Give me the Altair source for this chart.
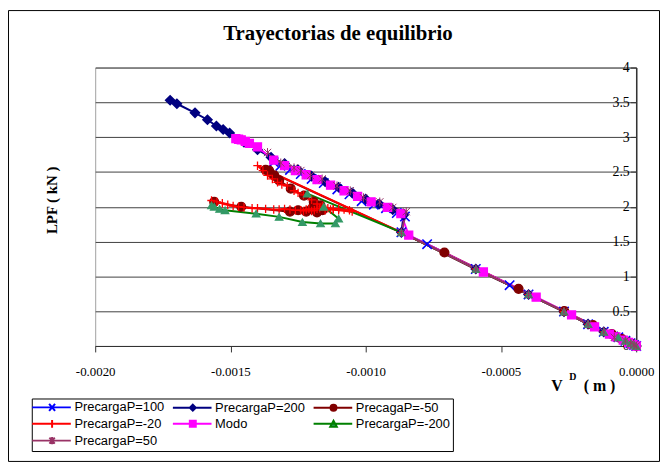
import altair as alt
import pandas as pd

series_names = ["PrecargaP=100", "PrecargaP=200", "PrecagaP=-50", "PrecargaP=-20",
                "Modo", "PrecargaP=-200", "PrecargaP=50"]
line_colors = ["#0000FF", "#000080", "#800000", "#FF0000", "#FF00FF", "#008000", "#993366"]
marker_colors = ["#0000FF", "#000080", "#800000", "#FF0000", "#FF00FF", "#339966", "#993366"]

# --- series values (V^D in m, LPF in kN) ---
x_p100 = [0, -0.000008, -0.000021, -0.000040, -0.000066, -0.000120, -0.000178, -0.000267,
          -0.000398, -0.000468, -0.000593, -0.000773, -0.000868, -0.000855, -0.000885,
          -0.000925, -0.000970, -0.001015, -0.001060, -0.001105, -0.001155, -0.001200,
          -0.001240, -0.001280, -0.001315, -0.001340]
y_p100 = [0, 0.015, 0.04, 0.075, 0.125, 0.204, 0.313, 0.494, 0.740, 0.873, 1.106, 1.462,
          1.633, 1.86, 1.91, 1.98, 2.03, 2.08, 2.18, 2.25, 2.34, 2.40, 2.47, 2.53, 2.59, 2.64]

x_p200 = [0, -0.00001, -0.000025, -0.000045, -0.00007, -0.00012, -0.000178, -0.000267,
          -0.000398, -0.000593, -0.000868, -0.00086, -0.0009, -0.00095, -0.001, -0.00105,
          -0.0011, -0.00115, -0.0012, -0.00125, -0.0013, -0.00135, -0.0014, -0.00145,
          -0.001503, -0.001527, -0.001552, -0.001585, -0.001631, -0.001698, -0.001723]
y_p200 = [0, 0.02, 0.045, 0.085, 0.13, 0.204, 0.313, 0.494, 0.740, 1.106, 1.633, 1.88,
          1.96, 2.04, 2.11, 2.20, 2.28, 2.36, 2.44, 2.53, 2.62, 2.71, 2.82, 2.93, 3.06, 3.11,
          3.16, 3.25, 3.35, 3.48, 3.53]

x_m50 = [0, -0.00001, -0.000027, -0.000053, -0.00009, -0.00016, -0.000266, -0.000435,
         -0.000709, -0.00137, -0.001357, -0.001338, -0.00132, -0.001277, -0.001228,
         -0.001192, -0.001167, -0.00116, -0.00118, -0.0012, -0.00122, -0.00125, -0.00128,
         -0.00146, -0.00156]
y_m50 = [0, 0.02, 0.05, 0.10, 0.17, 0.30, 0.50, 0.821, 1.343, 2.53, 2.52, 2.45, 2.38, 2.26,
         2.16, 2.07, 2.02, 1.95, 1.92, 1.97, 1.93, 1.95, 1.93, 2.00, 2.07]

x_m20 = [0, -0.000008, -0.00002, -0.00004, -0.000066, -0.00012, -0.000178, -0.000267,
         -0.000398, -0.000593, -0.000868, -0.0014, -0.00138, -0.001363, -0.001345, -0.001326,
         -0.00131, -0.00129, -0.001265, -0.00125, -0.00123, -0.0012, -0.00118, -0.00116,
         -0.00114, -0.00112, -0.0011, -0.00105, -0.00106, -0.00108, -0.0011, -0.00112,
         -0.00113, -0.00115, -0.00117, -0.00118, -0.00119, -0.0012, -0.00121, -0.00122,
         -0.00123, -0.00124, -0.00126, -0.00128, -0.0013, -0.00132, -0.00134, -0.00137,
         -0.0014, -0.00142, -0.00145, -0.00147, -0.00149, -0.00151, -0.00153, -0.00155,
         -0.00157]
y_m20 = [0, 0.015, 0.04, 0.075, 0.125, 0.204, 0.313, 0.494, 0.740, 1.106, 1.633, 2.59, 2.52,
         2.45, 2.40, 2.35, 2.32, 2.30, 2.23, 2.20, 2.17, 2.10, 2.04, 2.01, 1.98, 1.96, 1.95,
         1.93, 1.95, 1.96, 1.97, 1.97, 1.96, 1.95, 1.98, 1.97, 1.95, 1.94, 1.97, 1.96, 1.94,
         1.95, 1.95, 1.96, 1.97, 1.96, 1.96, 1.97, 1.98, 1.98, 1.99, 2.00, 2.01, 2.03, 2.05,
         2.07, 2.09]

x_modo = [0, -0.000012, -0.000028, -0.000048, -0.000075, -0.000099, -0.000154, -0.000239,
          -0.00037, -0.000565, -0.000841, -0.00087, -0.00092, -0.00098, -0.00103, -0.00108,
          -0.00113, -0.00118, -0.00122, -0.00126, -0.0013, -0.00134, -0.0014, -0.00143,
          -0.001445, -0.00146, -0.00147, -0.00148]
y_modo = [0, 0.02, 0.05, 0.085, 0.13, 0.171, 0.275, 0.446, 0.702, 1.063, 1.594, 1.90, 1.99,
          2.07, 2.15, 2.23, 2.31, 2.39, 2.46, 2.52, 2.59, 2.67, 2.86, 2.91, 2.94, 2.96, 2.97,
          2.98]

x_m200 = [0, -0.000008, -0.00002, -0.00004, -0.000066, -0.00012, -0.000178, -0.000267,
          -0.000398, -0.000593, -0.000868, -0.001216, -0.001155, -0.0011, -0.001112,
          -0.001167, -0.001234, -0.00132, -0.001405, -0.00152, -0.00154, -0.00156, -0.00157]
y_m200 = [0, 0.015, 0.04, 0.075, 0.125, 0.204, 0.313, 0.494, 0.740, 1.106, 1.633, 2.19, 2.00,
          1.83, 1.76, 1.76, 1.78, 1.855, 1.90, 1.95, 1.97, 2.00, 2.02]

x_p50 = [0, -0.000008, -0.00002, -0.00004, -0.000081, -0.00012, -0.000178, -0.000267,
         -0.000398, -0.000593, -0.000868, -0.00085, -0.0009, -0.000948, -0.001008, -0.001057,
         -0.001106, -0.001161, -0.001204, -0.00124, -0.001265, -0.001314, -0.001363]
y_p50 = [0, 0.015, 0.04, 0.075, 0.124, 0.204, 0.313, 0.494, 0.740, 1.106, 1.633, 1.93, 1.99,
         2.07, 2.13, 2.23, 2.30, 2.40, 2.45, 2.52, 2.56, 2.63, 2.78]

xs = [x_p100, x_p200, x_m50, x_m20, x_modo, x_m200, x_p50]
ys = [y_p100, y_p200, y_m50, y_m20, y_modo, y_m200, y_p50]

x_ticks = [-0.002, -0.0015, -0.001, -0.0005, 0]
y_ticks = [0, 0.5, 1, 1.5, 2, 2.5, 3, 3.5, 4]

rows = []
for name, xv, yv in zip(series_names, xs, ys):
    for i, (a, b) in enumerate(zip(xv, yv)):
        rows.append({"series": name, "x": a, "y": b, "i": i})
df = pd.DataFrame(rows)

# marker shapes (unit square -1..1)
X_SHAPE = "M-1,-1L1,1M-1,1L1,-1"
PLUS_SHAPE = "M-1,0H1M0,-1V1"
STAR_SHAPE = "M-1,-1L1,1M-1,1L1,-1M0,-1.2V1.2"
marker_shapes = [X_SHAPE, "diamond", "circle", PLUS_SHAPE, "square", "triangle-up", STAR_SHAPE]
marker_sizes = [90, 55, 50, 140, 64, 70, 90]
marker_strokes = [1.6, 1, 1, 2, 1, 1, 2]

# legend symbols: line segment with the marker in its middle
LINE = "M-2.7,0H10.3"
legend_shapes = [
    LINE + "M3,-1.2L5,1.2M3,1.2L5,-1.2",
    LINE + "M4,-1L5,0L4,1L3,0Z",
    LINE + "M5,0A1,1 0 1,1 3,0A1,1 0 1,1 5,0Z",
    LINE + "M4,-1.3V1.3",
    LINE + "M3,-1H5V1H3Z",
    LINE + "M4,-1L5.1,1H2.9Z",
    LINE + "M3.1,-1L4.9,1M3.1,1L4.9,-1M4,-1.2V1.2",
]

W, H = 546, 281
FONT_SERIF = "Liberation Serif"
FONT_SANS = "Liberation Sans"

x_enc = alt.X("x:Q", scale=alt.Scale(domain=[-0.002, 0], nice=False, zero=False),
              axis=alt.Axis(values=x_ticks, title=None, grid=False, tickSize=6,
                            labelPadding=14, labelFont=FONT_SERIF, labelFontSize=13,
                            labelColor="black", domainColor="#333333", tickColor="#333333",
                            labelFlush=False,
                            labelExpr="replace(format(datum.value, '.4f'), '\u2212', '-')"))
y_enc = alt.Y("y:Q", scale=alt.Scale(domain=[0, 4], nice=False),
              axis=alt.Axis(values=y_ticks, title=None, orient="left", offset=-W,
                            grid=True, gridColor="#404040", gridWidth=1, tickSize=6,
                            labelPadding=1, labelFont=FONT_SERIF, labelFontSize=14,
                            labelColor="black", domainColor="#333333", domainWidth=1.5,
                            tickColor="#333333", format="~g", labelFlush=False))

frame = alt.Chart(pd.DataFrame({"a": [0]})).mark_rect(
    fillOpacity=0, stroke="black", strokeWidth=1
).encode(x=alt.value(-87.5), x2=alt.value(569.5), y=alt.value(-57.5), y2=alt.value(397.5))

lines = alt.Chart(df).mark_line(strokeWidth=2).encode(
    x=x_enc, y=y_enc,
    color=alt.Color("series:N", scale=alt.Scale(domain=series_names, range=line_colors),
                    legend=None),
    order="i:Q",
)

points = alt.Chart(df).mark_point(filled=True, opacity=1).encode(
    x=x_enc, y=y_enc,
    shape=alt.Shape("series:N", scale=alt.Scale(domain=series_names, range=marker_shapes),
                    legend=None),
    fill=alt.Fill("series:N", scale=alt.Scale(domain=series_names, range=marker_colors),
                  legend=None),
    stroke=alt.Stroke("series:N", scale=alt.Scale(domain=series_names, range=marker_colors),
                      legend=None),
    size=alt.Size("series:N", scale=alt.Scale(domain=series_names, range=marker_sizes),
                  legend=None),
    strokeWidth=alt.StrokeWidth("series:N",
                                scale=alt.Scale(domain=series_names, range=marker_strokes),
                                legend=None),
)

leg = alt.Legend(title=None, orient="none", legendX=-64, legendY=334, columns=3,
                 direction="horizontal", columnPadding=4, rowPadding=0, padding=2,
                 strokeColor="black", fillColor="white", symbolSize=36,
                 symbolStrokeWidth=2, labelOffset=28, labelFont=FONT_SANS,
                 labelFontSize=13, labelColor="black")

legend_layer = alt.Chart(df).transform_filter("false").mark_point(
    filled=True, opacity=1, strokeWidth=2
).encode(
    shape=alt.Shape("series:N", scale=alt.Scale(domain=series_names, range=legend_shapes),
                    legend=leg),
    fill=alt.Fill("series:N", scale=alt.Scale(domain=series_names, range=marker_colors),
                  legend=leg),
    stroke=alt.Stroke("series:N", scale=alt.Scale(domain=series_names, range=line_colors),
                      legend=leg),
)


def label(text, x, y, size, angle=0, weight="bold", baseline="middle", align="center"):
    return alt.Chart(pd.DataFrame({"t": [text]})).mark_text(
        text=text, font=FONT_SERIF, fontSize=size, fontWeight=weight, angle=angle,
        baseline=baseline, align=align, color="black"
    ).encode(x=alt.value(x), y=alt.value(y))


title = label("Trayectorias de equilibrio", 245, -34, 21)
ytitle = label("LPF ( kN )", -44, 134, 15, angle=270)
xt_v = label("V", 466, 321, 16)
xt_d = label("D", 482, 312, 10)
xt_m = label("( m )", 509, 321, 16)

chart = alt.layer(frame, lines, points, legend_layer, title, ytitle, xt_v, xt_d, xt_m).resolve_scale(
    color="independent", fill="independent", stroke="independent", shape="independent"
).properties(
    width=W, height=H,
    padding={"left": 88, "top": 58, "right": 24, "bottom": 117},
    autosize=alt.AutoSizeParams(type="none"),
).configure_view(stroke="#a0a0a0")

chart.save("out.html", embed_options={"renderer": "svg", "actions": False})
